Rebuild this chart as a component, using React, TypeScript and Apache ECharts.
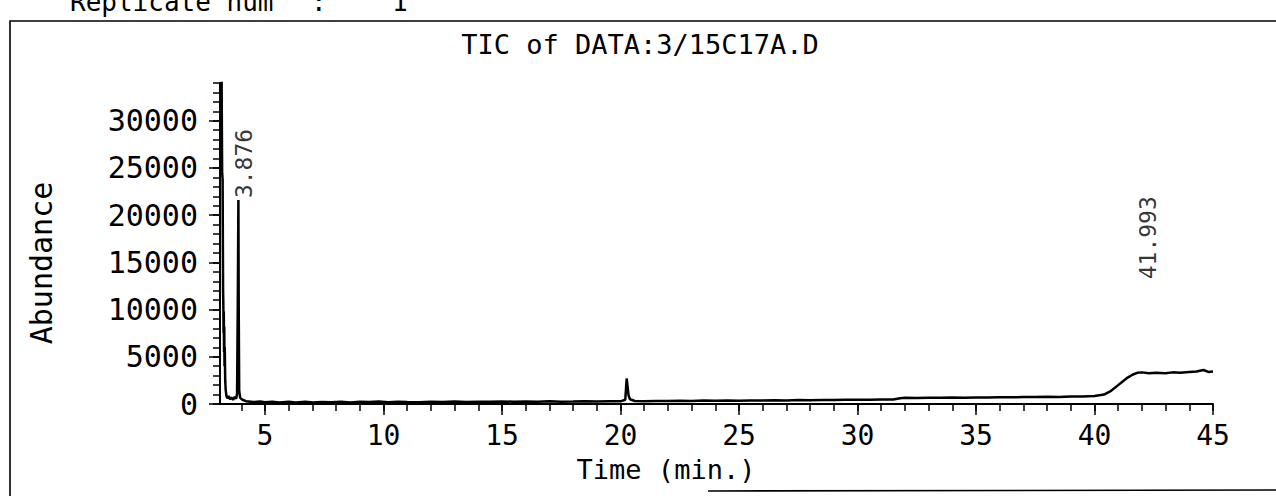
import React, { useEffect, useRef } from "react";
import * as echarts from "echarts";

// ---- data ----
const times = [
  3.12, 3.16, 3.19, 3.21, 3.23, 3.24, 3.25, 3.26, 3.27, 3.28, 3.29, 3.30, 3.32, 3.34, 3.37, 3.41, 3.46, 3.52,
  3.58, 3.65, 3.72, 3.78, 3.82, 3.85, 3.876, 3.89, 3.91, 3.95, 4.05, 4.2, 4.5, 4.8, 5.0, 5.3, 5.6, 6.0,
  6.3, 6.7, 7.0, 7.4, 7.8, 8.2, 8.6, 9.0, 9.4, 9.8, 10.2, 10.6, 11.0, 11.5, 12.0, 12.5, 13.0, 13.5,
  14.0, 14.5, 15.0, 15.5, 16.0, 16.5, 17.0, 17.5, 18.0, 18.5, 19.0, 19.5, 20.0, 20.2, 20.26, 20.3, 20.34,
  20.4, 20.6, 21.0, 21.5, 22.0, 22.5, 23.0, 23.5, 24.0, 24.5, 25.0, 25.5, 26.0, 26.5, 27.0, 27.5, 28.0,
  28.5, 29.0, 29.5, 30.0, 30.5, 31.0, 31.5, 31.8, 32.0, 32.5, 33.0, 33.5, 34.0, 34.5, 35.0, 35.5, 36.0,
  36.5, 37.0, 37.5, 38.0, 38.5, 39.0, 39.5, 40.0, 40.4, 40.7, 41.0, 41.2, 41.4, 41.6, 41.8, 42.0, 42.3,
  42.6, 43.0, 43.3, 43.6, 44.0, 44.3, 44.6, 44.8, 45.0,
];
const abundance = [
  38000, 38000, 24500, 23800, 12000, 10800, 7500, 9800, 5500, 8200, 4000, 6000, 2500, 1500, 900, 600, 850, 500,
  700, 450, 750, 550, 1100, 10500, 21600, 10200, 1400, 650, 450, 300, 200, 260, 180, 240, 150, 230,
  170, 250, 160, 220, 190, 240, 170, 230, 200, 260, 180, 250, 210, 190, 240, 220, 260, 200,
  250, 230, 270, 240, 260, 230, 280, 250, 270, 300, 260, 290, 280, 450, 2700, 1800, 900,
  500, 320, 300, 330, 310, 340, 320, 360, 340, 370, 350, 380, 360, 400, 380, 420, 410,
  430, 420, 450, 440, 460, 470, 480, 620, 650, 640, 660, 650, 680, 670, 700, 690, 720,
  710, 740, 730, 760, 750, 790, 800, 850, 1000, 1400, 2000, 2400, 2800, 3100, 3300, 3350, 3250,
  3300, 3250, 3350, 3300, 3400, 3450, 3600, 3400, 3450,
];
const peakTimes = [3.876, 41.993];
const peakLabelLevels = [21600, 13000];
const peakLabels = ["3.876", "41.993"];

const xMinorTicks = [4, 5, 6, 7, 8, 9, 10, 11, 12, 13, 14, 15, 16, 17, 18, 19, 20, 21, 22, 23, 24, 25, 26, 27, 28, 29, 30, 31, 32, 33, 34, 35, 36, 37, 38, 39, 40, 41, 42, 43, 44, 45];
const xMajorTicks = [5, 10, 15, 20, 25, 30, 35, 40, 45];
const yMinorTicks = [0, 1000, 2000, 3000, 4000, 5000, 6000, 7000, 8000, 9000, 10000, 11000, 12000, 13000, 14000, 15000, 16000, 17000, 18000, 19000, 20000, 21000, 22000, 23000, 24000, 25000, 26000, 27000, 28000, 29000, 30000, 31000, 32000, 33000, 34000];
const yMajorTicks = [0, 5000, 10000, 15000, 20000, 25000, 30000];

const titleText = "TIC of DATA:3/15C17A.D";
const xName = "Time (min.)";
const yName = "Abundance";

const FONT = "'DejaVu Sans Mono', 'Liberation Mono', monospace";

export default function App() {
  const ref = useRef<HTMLDivElement>(null);
  useEffect(() => {
    if (!ref.current) return;
    const chart = echarts.init(ref.current, null, { renderer: "svg" });
    const lineData = times.map((t, i) => [t, abundance[i]]);
    const labelData = peakTimes.map((t, i) => ({ value: [t, peakLabelLevels[i]], name: peakLabels[i] }));
    const xBase = { type: "value", min: 3.1, max: 45, position: "bottom", splitLine: { show: false } };
    const yBase = { type: "value", min: 0, max: 34000, position: "left", splitLine: { show: false } };
    chart.setOption({
      animation: false,
      backgroundColor: "#fff",
      grid: { left: 220, right: 63, top: 83, bottom: 92, containLabel: false },
      xAxis: [
        {
          ...xBase,
          axisLine: { show: true, onZero: false, lineStyle: { color: "#000", width: 2 } },
          axisTick: { show: true, customValues: xMinorTicks, length: 7, lineStyle: { color: "#000", width: 1.5 } },
          axisLabel: { show: false },
        },
        {
          ...xBase,
          axisLine: { show: false, onZero: false },
          axisTick: { show: true, customValues: xMajorTicks, length: 11, lineStyle: { color: "#000", width: 1.5 } },
          axisLabel: {
            show: true, customValues: xMajorTicks, margin: 17, color: "#000",
            fontFamily: FONT, fontSize: 28, lineHeight: 28, formatter: (v: number) => String(v),
          },
        },
      ],
      yAxis: [
        {
          ...yBase,
          axisLine: { show: true, lineStyle: { color: "#000", width: 2 } },
          axisTick: { show: true, customValues: yMinorTicks, length: 7, lineStyle: { color: "#000", width: 1.5 } },
          axisLabel: { show: false },
        },
        {
          ...yBase,
          axisLine: { show: false },
          axisTick: { show: true, customValues: yMajorTicks, length: 11, lineStyle: { color: "#000", width: 1.5 } },
          axisLabel: {
            show: true, customValues: yMajorTicks, margin: 22, color: "#000",
            fontFamily: FONT, fontSize: 30, formatter: (v: number) => String(v),
          },
        },
      ],
      series: [
        {
          type: "line",
          xAxisIndex: 0,
          yAxisIndex: 0,
          data: lineData,
          showSymbol: false,
          symbol: "none",
          clip: true,
          lineStyle: { color: "#000", width: 2.5 },
        },
        {
          type: "scatter",
          xAxisIndex: 0,
          yAxisIndex: 0,
          data: labelData,
          symbolSize: 0,
          label: {
            show: true,
            formatter: (p: any) => p.name,
            position: [6, -2],
            rotate: 90,
            align: "left",
            verticalAlign: "middle",
            color: "#000",
            fontFamily: FONT,
            fontSize: 23,
          },
        },
      ],
      graphic: [
        { type: "rect", shape: { x: 10, y: 21, width: 1300, height: 520 }, style: { fill: "none", stroke: "#000", lineWidth: 1.6 } },
        { type: "line", shape: { x1: 708, y1: 491, x2: 1276, y2: 490 }, style: { stroke: "#000", lineWidth: 1.6 } },
        { type: "text", x: 70, y: 2, style: { text: "Replicate num", font: `26px ${FONT}`, fill: "#000", verticalAlign: "middle" } },
        { type: "text", x: 311, y: 2, style: { text: ":", font: `26px ${FONT}`, fill: "#000", verticalAlign: "middle" } },
        { type: "text", x: 392, y: 2, style: { text: "1", font: `26px ${FONT}`, fill: "#000", verticalAlign: "middle" } },
        { type: "text", x: 640, y: 44, style: { text: titleText, font: `27px ${FONT}`, fill: "#000", align: "center", verticalAlign: "middle" } },
        { type: "text", x: 666, y: 469, style: { text: xName, font: `27px ${FONT}`, fill: "#000", align: "center", verticalAlign: "middle" } },
        { type: "text", x: 41, y: 263, rotation: Math.PI / 2, style: { text: yName, font: `30px ${FONT}`, fill: "#000", align: "center", verticalAlign: "middle" } },
      ],
    });
    return () => chart.dispose();
  }, []);
  return <div ref={ref} style={{ position: "fixed", left: 0, top: 0, width: 1276, height: 496 }} />;
}
